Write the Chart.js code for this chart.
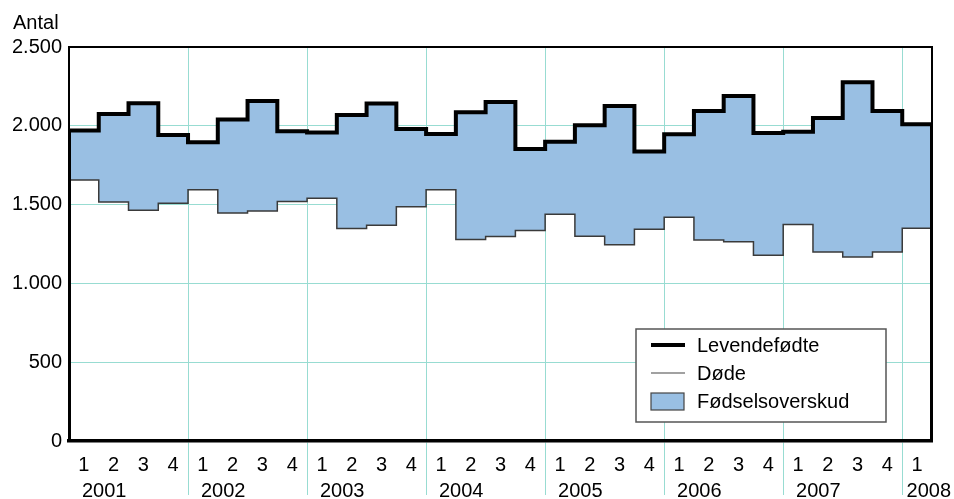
<!DOCTYPE html>
<html><head><meta charset="utf-8">
<script src="https://cdn.jsdelivr.net/npm/chart.js@4.4.1/dist/chart.umd.min.js"></script>
<style>html,body{margin:0;padding:0;background:#fff}#wrap{width:954px;height:499px}</style>
</head><body><div id="wrap"><canvas id="c" width="954" height="499"></canvas></div>
<script>
const years = ['2001','2002','2003','2004','2005','2006','2007','2008'];
const quarterLabels = ['1','2','3','4','1','2','3','4','1','2','3','4','1','2','3','4',
  '1','2','3','4','1','2','3','4','1','2','3','4','1'];
const levendefodte = [1970,2075,2143,1942, 1895,2040,2158,1965, 1957,2068,2142,1980,
  1948,2086,2151,1853, 1899,2003,2126,1837, 1946,2094,2189,1955, 1962,2050,2276,2094, 2010];
const dode = [1656,1517,1464,1508, 1595,1447,1459,1520, 1540,1348,1369,1487,
  1595,1278,1298,1336, 1438,1299,1246,1343, 1420,1276,1265,1178, 1374,1199,1168,1199, 1350];
const yTicks = [0,500,1000,1500,2000,2500];
const seriesNames = ['Levendefødte','Døde','Fødselsoverskud'];
const yAxisTitle = 'Antal';

const FONT = "'Liberation Sans', Arial, sans-serif";
const GRID = '#98dcd2';
const BLUE = '#99bfe3';

const n = levendefodte.length;
const stepPts = vals => vals.map((v,i)=>({x:i,y:v})).concat([{x:n,y:vals[n-1]}]);
const levPts = [{x:0,y:0}].concat(stepPts(levendefodte), [{x:n,y:0}]);

const fmt = v => String(v).replace(/\B(?=(\d{3})+(?!\d))/g,'.');

const overlay = {
  id:'overlay',
  beforeDatasetsDraw(chart){
    const {ctx, chartArea:a} = chart;
    ctx.save(); ctx.strokeStyle='#000'; ctx.lineWidth=2;
    ctx.beginPath(); ctx.moveTo(a.left, a.top); ctx.lineTo(a.right, a.top); ctx.lineTo(a.right, a.bottom); ctx.stroke();
    ctx.restore();
  },
  afterDraw(chart){
    const {ctx} = chart;
    const xq = chart.scales.xq;
    ctx.save();
    ctx.fillStyle='#000';
    ctx.font = '20px ' + FONT;
    ctx.textBaseline='alphabetic';
    ctx.textAlign='left';
    ctx.fillText(yAxisTitle, 13, 29);
    years.forEach((yr,i)=>{
      let x = xq.getPixelForValue(i*4) - 2;
      const w = ctx.measureText(yr).width;
      if (x + w > 951) x = 951 - w;
      ctx.fillText(yr, x, 497);
    });
    // legend
    const L = {x:636, y:329, w:250, h:93};
    ctx.fillStyle='#fff';
    ctx.fillRect(L.x, L.y, L.w, L.h);
    ctx.strokeStyle='#555'; ctx.lineWidth=1.5;
    ctx.strokeRect(L.x, L.y, L.w, L.h);
    const rows = [345, 373, 401];
    ctx.strokeStyle='#000'; ctx.lineWidth=4;
    ctx.beginPath(); ctx.moveTo(651, rows[0]); ctx.lineTo(685, rows[0]); ctx.stroke();
    ctx.strokeStyle='#444'; ctx.lineWidth=1.2;
    ctx.beginPath(); ctx.moveTo(651, rows[1]); ctx.lineTo(685, rows[1]); ctx.stroke();
    ctx.fillStyle=BLUE; ctx.fillRect(651, 393, 33, 17);
    ctx.strokeStyle='#444'; ctx.lineWidth=1.2; ctx.strokeRect(651, 393, 33, 17);
    ctx.fillStyle='#000'; ctx.textBaseline='middle';
    seriesNames.forEach((s,i)=> ctx.fillText(s, 697, rows[i]+1));
    ctx.restore();
  }
};

new Chart(document.getElementById('c'), {
  type:'line',
  data:{
    datasets:[
      {label:seriesNames[0], data:levPts, xAxisID:'x', yAxisID:'y', stepped:'before',
       borderColor:'#000', borderWidth:4, pointRadius:0, fill:false, borderJoinStyle:'miter'},
      {label:seriesNames[1], data:stepPts(dode), xAxisID:'x', yAxisID:'y', stepped:'before',
       borderColor:'#3a3a3a', borderWidth:1.5, pointRadius:0, fill:false},
      {label:seriesNames[2], data:stepPts(levendefodte), xAxisID:'x', yAxisID:'y', stepped:'before',
       borderWidth:0, borderColor:'rgba(0,0,0,0)', backgroundColor:BLUE, pointRadius:0, fill:1}
    ]
  },
  options:{
    responsive:false, animation:false, devicePixelRatio:1,
    layout:{padding:{top:47, right:22, left:0, bottom:0}},
    plugins:{legend:{display:false}, tooltip:{enabled:false}},
    scales:{
      x:{type:'linear', min:0, max:n, display:false},
      xq:{type:'category', labels:quarterLabels, position:'bottom', offset:true,
        grid:{offset:true, lineWidth:1, drawTicks:true, tickLength:54,
          color: c => (c.index>0 && c.index<quarterLabels.length && c.index%4===0) ? GRID : 'rgba(0,0,0,0)'},
        border:{display:true, color:'#000', width:3.5},
        ticks:{autoSkip:false, maxRotation:0, minRotation:0, font:{size:20, family:FONT}, color:'#000', padding:-42},
        afterFit: s => { s.height = 58; }
      },
      y:{type:'linear', min:0, max:2500, position:'left',
        afterBuildTicks: s => { s.ticks = yTicks.map(v=>({value:v})); },
        grid:{color:GRID, lineWidth:1, drawTicks:false},
        border:{display:true, color:'#000', width:2},
        ticks:{font:{size:20, family:FONT}, color:'#000', padding:7, callback: v => fmt(v)},
        afterFit: s => { s.width = 69; }
      }
    }
  },
  plugins:[overlay]
});
</script></body></html>
